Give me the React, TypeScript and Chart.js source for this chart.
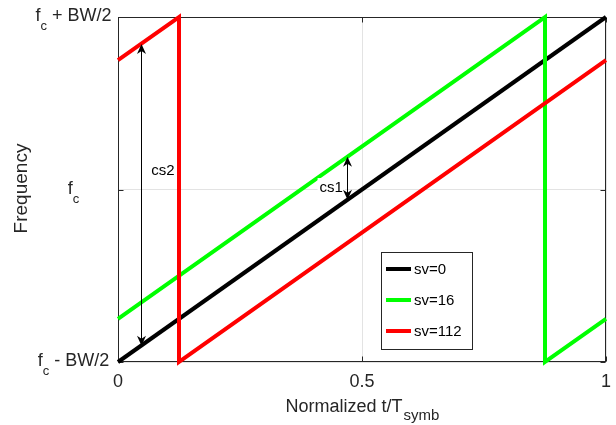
import React, { useEffect, useRef } from "react";
import { Chart, registerables } from "chart.js";
Chart.register(...registerables);

// ---- data ----
const seriesLabels = ["sv=0", "sv=16", "sv=112"];
const seriesColors = ["#000000", "#00ff00", "#ff0000"];
const sv0X = [0, 1];
const sv0Y = [-0.5, 0.5];
const sv16X = [0, 0.875, 0.875, 1];
const sv16Y = [-0.375, 0.5, -0.5, -0.375];
const sv112X = [0, 0.125, 0.125, 1];
const sv112Y = [0.375, 0.5, -0.5, 0.375];

const xTicks = [0, 0.5, 1];
const xTickLabels = ["0", "0.5", "1"];
const yTicks = [-0.5, 0, 0.5];
const yTickMain = ["f", "f", "f"];
const yTickSub = ["c", "c", "c"];
const yTickRest = [" - BW/2", "", " + BW/2"];

const xTitleMain = "Normalized t/T";
const xTitleSub = "symb";
const yTitle = "Frequency";

// annotation arrows (data units)
const arrowLabels = ["cs2", "cs1"];
const arrowX = [0.047, 0.47];
const arrowYFrom = [-0.453, -0.03];
const arrowYTo = [0.422, 0.095];
const arrowLabelX = [0.092, 0.437];
const arrowLabelY = [0.056, 0.007];

const FONT = "'Liberation Sans', Arial, Helvetica, sans-serif";

function pts(xs: number[], ys: number[]) {
  return xs.map((x, i) => ({ x, y: ys[i] }));
}

export default function App() {
  const ref = useRef<HTMLCanvasElement>(null);

  useEffect(() => {
    const canvas = ref.current!;
    const seriesX = [sv0X, sv16X, sv112X];
    const seriesY = [sv0Y, sv16Y, sv112Y];
    const datasets = seriesLabels.map((lab, i) => ({
      label: lab,
      data: pts(seriesX[i], seriesY[i]),
      borderColor: seriesColors[i],
      backgroundColor: seriesColors[i],
      borderWidth: 4,
      showLine: true,
      pointRadius: 0,
      tension: 0,
      clip: false as any,
      order: 3 - i,
    }));

    const arrowHead = (ctx: CanvasRenderingContext2D, x: number, y: number, dir: number) => {
      ctx.beginPath();
      ctx.moveTo(x, y);
      ctx.lineTo(x - 4.5, y + dir * 10);
      ctx.lineTo(x, y + dir * 7);
      ctx.lineTo(x + 4.5, y + dir * 10);
      ctx.closePath();
      ctx.fill();
    };

    const decor = {
      id: "decor",
      beforeDatasetsDraw(chart: any) {
        const { ctx, chartArea: a, scales } = chart;
        const xs = scales.x, ys = scales.y;
        ctx.save();
        ctx.strokeStyle = "#262626";
        ctx.lineWidth = 1;
        const L = Math.round(a.left) + 0.5, R = Math.round(a.right) - 0.5;
        const T = Math.round(a.top) + 0.5, B = Math.round(a.bottom) - 0.5;
        ctx.strokeRect(L, T, R - L, B - T);
        ctx.beginPath();
        xTicks.forEach((v) => {
          const px = Math.round(xs.getPixelForValue(v)) + 0.5;
          ctx.moveTo(px, B); ctx.lineTo(px, B - 5);
          ctx.moveTo(px, T); ctx.lineTo(px, T + 5);
        });
        yTicks.forEach((v) => {
          const py = Math.round(ys.getPixelForValue(v)) + 0.5;
          ctx.moveTo(L, py); ctx.lineTo(L + 5, py);
          ctx.moveTo(R, py); ctx.lineTo(R - 5, py);
        });
        ctx.stroke();
        ctx.restore();
      },
      afterDatasetsDraw(chart: any) {
        const { ctx, chartArea: a, scales } = chart;
        const xs = scales.x, ys = scales.y;
        ctx.save();
        arrowLabels.forEach((lab, i) => {
          const px = xs.getPixelForValue(arrowX[i]);
          const y1 = ys.getPixelForValue(arrowYFrom[i]);
          const y2 = ys.getPixelForValue(arrowYTo[i]);
          const lx = xs.getPixelForValue(arrowLabelX[i]);
          const ly = ys.getPixelForValue(arrowLabelY[i]);
          ctx.font = `15px ${FONT}`;
          const w = ctx.measureText(lab).width;
          ctx.fillStyle = "#ffffff";
          ctx.fillRect(lx - w / 2 - 2, ly - 9, w + 4, 18);
          ctx.fillStyle = "#000000";
          ctx.textAlign = "center";
          ctx.textBaseline = "middle";
          ctx.fillText(lab, lx, ly + 1);
          ctx.strokeStyle = "#000000";
          ctx.lineWidth = 1;
          ctx.beginPath();
          ctx.moveTo(Math.round(px) + 0.5, y1 - 3);
          ctx.lineTo(Math.round(px) + 0.5, y2 + 3);
          ctx.stroke();
          arrowHead(ctx, Math.round(px) + 0.5, y2, 1);
          arrowHead(ctx, Math.round(px) + 0.5, y1, -1);
        });

        // legend
        const lx0 = a.left + 263, ly0 = a.top + 235;
        const lw = 91, lh = 97;
        ctx.fillStyle = "#ffffff";
        ctx.fillRect(lx0, ly0, lw, lh);
        ctx.strokeStyle = "#262626";
        ctx.lineWidth = 1;
        ctx.strokeRect(lx0 + 0.5, ly0 + 0.5, lw, lh);
        seriesLabels.forEach((lab, i) => {
          const yy = ly0 + 17 + i * 31;
          ctx.strokeStyle = seriesColors[i];
          ctx.lineWidth = 4;
          ctx.beginPath();
          ctx.moveTo(lx0 + 5, yy);
          ctx.lineTo(lx0 + 30, yy);
          ctx.stroke();
          ctx.fillStyle = "#000000";
          ctx.font = `15px ${FONT}`;
          ctx.textAlign = "left";
          ctx.textBaseline = "middle";
          ctx.fillText(lab, lx0 + 33, yy + 1);
        });

        // x tick labels
        ctx.fillStyle = "#262626";
        ctx.font = `18px ${FONT}`;
        ctx.textAlign = "center";
        ctx.textBaseline = "alphabetic";
        xTicks.forEach((v, i) => {
          ctx.fillText(xTickLabels[i], xs.getPixelForValue(v), a.bottom + 25);
        });

        // y tick labels with subscript
        const colX = 73.5;
        yTicks.forEach((v, i) => {
          const py = ys.getPixelForValue(v);
          ctx.font = `18px ${FONT}`;
          const w1 = ctx.measureText(yTickMain[i]).width;
          const w3 = ctx.measureText(yTickRest[i]).width;
          ctx.font = `13px ${FONT}`;
          const w2 = ctx.measureText(yTickSub[i]).width;
          let x = colX - (w1 + w2 + w3) / 2;
          ctx.textAlign = "left";
          ctx.font = `18px ${FONT}`;
          ctx.fillText(yTickMain[i], x, py + 4);
          x += w1;
          ctx.font = `13px ${FONT}`;
          ctx.fillText(yTickSub[i], x, py + 13);
          x += w2;
          ctx.font = `18px ${FONT}`;
          ctx.fillText(yTickRest[i], x, py + 4);
        });

        // x title
        ctx.font = `18px ${FONT}`;
        const tw1 = ctx.measureText(xTitleMain).width;
        ctx.font = `15px ${FONT}`;
        const tw2 = ctx.measureText(xTitleSub).width;
        const tcx = (a.left + a.right) / 2;
        const tx = tcx - (tw1 + tw2) / 2;
        ctx.textAlign = "left";
        ctx.font = `18px ${FONT}`;
        ctx.fillText(xTitleMain, tx, a.bottom + 50);
        ctx.font = `15px ${FONT}`;
        ctx.fillText(xTitleSub, tx + tw1 + 1, a.bottom + 58);

        // y title
        ctx.translate(27, 188.5);
        ctx.rotate(-Math.PI / 2);
        ctx.font = `19px ${FONT}`;
        ctx.textAlign = "center";
        ctx.fillText(yTitle, 0, 0);
        ctx.restore();
      },
    };

    const chart = new Chart(canvas, {
      type: "scatter",
      data: { datasets: datasets as any },
      options: {
        animation: false,
        responsive: false,
        devicePixelRatio: 1,
        layout: { padding: { left: 118, top: 17, right: 10, bottom: 63 } },
        plugins: { legend: { display: false }, tooltip: { enabled: false } },
        scales: {
          x: {
            type: "linear",
            min: 0,
            max: 1,
            afterBuildTicks: (s: any) => { s.ticks = xTicks.map((v) => ({ value: v })); },
            ticks: { display: false },
            grid: { color: "#e3e3e3", drawTicks: false, tickLength: 0 },
            border: { display: false },
            title: { display: false },
          },
          y: {
            type: "linear",
            min: -0.5,
            max: 0.5,
            afterBuildTicks: (s: any) => { s.ticks = yTicks.map((v) => ({ value: v })); },
            ticks: { display: false },
            grid: { color: "#e3e3e3", drawTicks: false, tickLength: 0 },
            border: { display: false },
            title: { display: false },
          },
        },
      },
      plugins: [decor],
    });
    return () => chart.destroy();
  }, []);

  return (
    <div style={{ position: "fixed", left: 0, top: 0, width: 616, height: 425, background: "#ffffff" }}>
      <canvas ref={ref} width={616} height={425} style={{ display: "block" }} />
    </div>
  );
}
